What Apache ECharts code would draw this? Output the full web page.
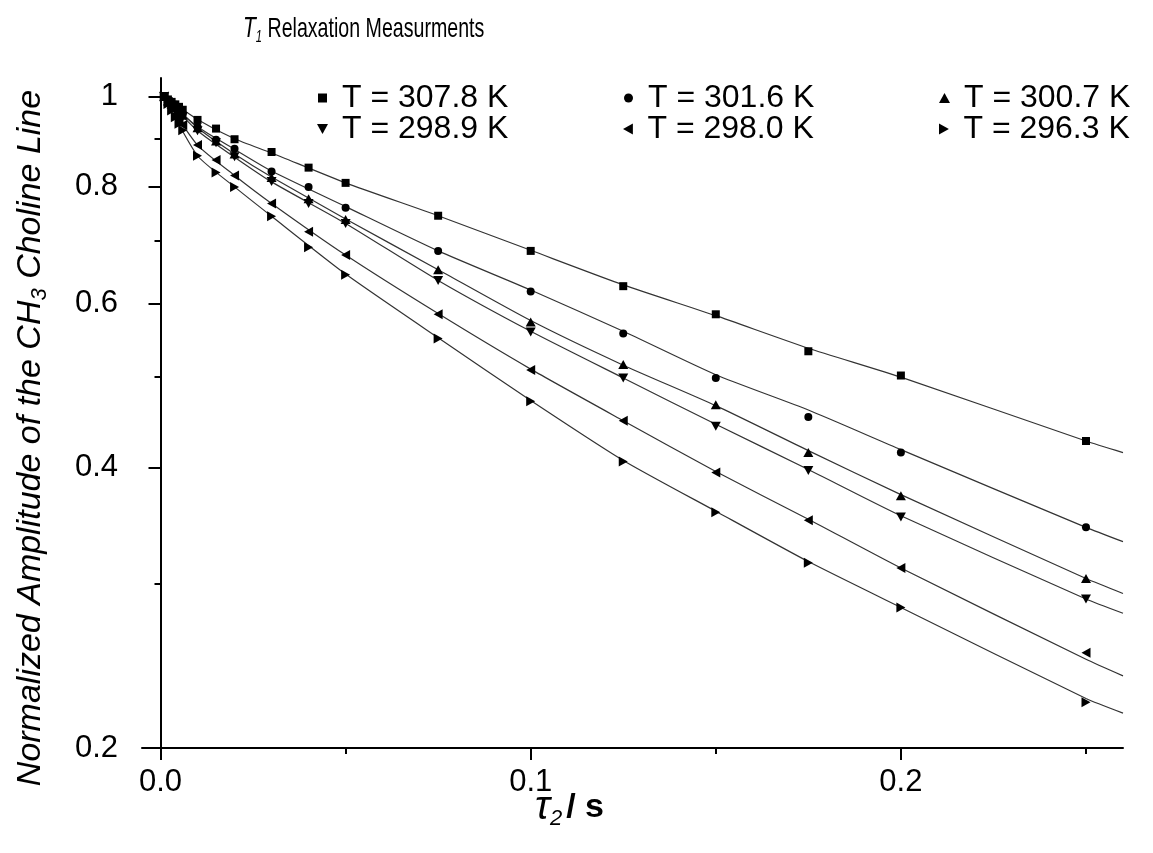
<!DOCTYPE html>
<html><head><meta charset="utf-8">
<script src="https://cdn.jsdelivr.net/npm/echarts@6/dist/echarts.min.js"></script>
<style>html,body{margin:0;padding:0;background:#fff}#c{width:1153px;height:853px}</style>
</head><body><div id="c"></div>
<script>
// ---- data ----
const tau = [0.001,0.002,0.003,0.004,0.005,0.006,0.01,0.015,0.02,0.03,0.04,0.05,0.075,0.1,0.125,0.15,0.175,0.2,0.25];
const seriesNames = ['T = 307.8 K','T = 301.6 K','T = 300.7 K','T = 298.9 K','T = 298.0 K','T = 296.3 K'];
const amp3078 = [1.0,0.993,0.987,0.981,0.975,0.968,0.944,0.924,0.900,0.872,0.839,0.808,0.745,0.683,0.626,0.584,0.533,0.502,0.427];
const amp3016 = [1.0,0.990,0.982,0.975,0.965,0.957,0.928,0.899,0.879,0.831,0.800,0.760,0.683,0.618,0.557,0.499,0.453,0.415,0.345];
const amp3007 = [1.0,0.989,0.981,0.973,0.963,0.955,0.926,0.896,0.868,0.819,0.777,0.738,0.652,0.573,0.516,0.467,0.415,0.373,0.304];
const amp2989 = [1.0,0.988,0.979,0.970,0.961,0.952,0.919,0.892,0.862,0.811,0.768,0.731,0.635,0.559,0.499,0.443,0.397,0.354,0.289];
const amp2980 = [1.0,0.985,0.972,0.958,0.945,0.932,0.887,0.855,0.823,0.768,0.716,0.676,0.584,0.509,0.449,0.395,0.351,0.312,0.253];
const amp2963 = [1.0,0.982,0.966,0.950,0.935,0.920,0.864,0.829,0.800,0.744,0.689,0.644,0.550,0.471,0.406,0.358,0.316,0.283,0.224];
// fitted curves
const tauFit = [0.001,0.01,0.02,0.03,0.05,0.075,0.1,0.125,0.15,0.175,0.2,0.25,0.26];
const fit3078 = [1.0,0.945,0.901,0.870,0.808,0.745,0.684,0.628,0.582,0.537,0.500,0.427,0.415];
const fit3016 = [1.0,0.928,0.878,0.832,0.762,0.683,0.620,0.560,0.503,0.461,0.418,0.345,0.333];
const fit3007 = [1.0,0.926,0.868,0.820,0.739,0.652,0.575,0.515,0.466,0.417,0.374,0.304,0.293];
const fit2989 = [1.0,0.919,0.861,0.810,0.731,0.635,0.560,0.499,0.445,0.398,0.355,0.289,0.279];
const fit2980 = [1.0,0.887,0.823,0.768,0.676,0.585,0.510,0.449,0.396,0.352,0.312,0.249,0.239];
const fit2963 = [1.0,0.864,0.800,0.744,0.645,0.551,0.472,0.407,0.359,0.317,0.283,0.226,0.218];
const yMajorTicks = [0.2,0.4,0.6,0.8,1];
const yMinorTicks = [0.3,0.5,0.7,0.9];
const xMajorTicks = [0,0.1,0.2];
const xMinorTicks = [0.05,0.15,0.25];

// ---- chart ----
const amps = [amp3078,amp3016,amp3007,amp2989,amp2980,amp2963];
const fits = [fit3078,fit3016,fit3007,fit2989,fit2980,fit2963];
const symbols = [
  {symbol:'rect', size:8, rot:0, icon:'rect', isz:9},
  {symbol:'circle', size:8, rot:0, icon:'circle', isz:9},
  {symbol:'triangle', size:[10,9], rot:0, icon:'path://M5,0L10,9L0,9Z', isz:11},
  {symbol:'triangle', size:[10,9], rot:180, icon:'path://M0,0L10,0L5,9Z', isz:11},
  {symbol:'triangle', size:[10,9], rot:90, icon:'path://M9,0L9,10L0,5Z', isz:11},
  {symbol:'triangle', size:[10,9], rot:-90, icon:'path://M0,0L0,10L9,5Z', isz:11}
];
const FONT = '"Liberation Sans", Arial, sans-serif';
const series = [];
seriesNames.forEach((n,i)=>{
  series.push({
    name: 'fit'+i, type:'line', smooth:0.2, showSymbol:false, silent:true,
    lineStyle:{color:'#333', width:1.2}, z:1,
    data: tauFit.map((x,j)=>[x,fits[i][j]])
  });
  series.push({
    name: n, type:'scatter', symbol: symbols[i].symbol, symbolSize: symbols[i].size,
    symbolRotate: symbols[i].rot, itemStyle:{color:'#000', opacity:1}, z:3,
    data: tau.map((x,j)=>[x,amps[i][j]])
  });
});
const legendPos = [[313,77],[619,77],[935,77],[313,108],[619,108],[935,108]];
const legends = seriesNames.map((n,i)=>({
  data:[{name:n, icon:symbols[i].icon}], left:legendPos[i][0] - (symbols[i].isz-9)/2, top:legendPos[i][1],
  itemWidth:symbols[i].isz, itemHeight:symbols[i].isz, itemGap:0,
  textStyle:{fontSize:32, color:'#000', fontFamily:FONT, padding:[0,0,0,10 - (symbols[i].isz-9)/2]}, selectedMode:false
}));
const chart = echarts.init(document.getElementById('c'));
chart.setOption({
  backgroundColor:'#fff',
  animation:false,
  grid:{left:142, right:30, top:78, bottom:105},
  legend: legends,
  xAxis:[{
    type:'value', min:-0.005, max:0.26,
    axisLine:{lineStyle:{color:'#000', width:2}},
    axisTick:{customValues:xMajorTicks, length:12, lineStyle:{color:'#000', width:2}},
    axisLabel:{customValues:xMajorTicks, formatter:v=>v.toFixed(1), fontSize:31, color:'#000', fontFamily:FONT, margin:19},
    splitLine:{show:false}
  },{
    type:'value', min:-0.005, max:0.26, position:'bottom',
    axisLine:{show:false},
    axisTick:{customValues:xMinorTicks, length:6, lineStyle:{color:'#000', width:2}},
    axisLabel:{show:false},
    splitLine:{show:false}
  }],
  yAxis:[{
    type:'log', min:0.2, max:1.047,
    axisLine:{show:true, lineStyle:{color:'#000', width:2}},
    axisTick:{customValues:yMajorTicks, length:12, lineStyle:{color:'#000', width:2}},
    axisLabel:{customValues:yMajorTicks, formatter:v=>String(+v.toFixed(1)), fontSize:31, color:'#000', fontFamily:FONT, margin:24},
    splitLine:{show:false}
  },{
    type:'log', min:0.2, max:1.047, position:'left',
    axisLine:{show:false},
    axisTick:{customValues:yMinorTicks, length:6, lineStyle:{color:'#000', width:2}},
    axisLabel:{show:false},
    splitLine:{show:false}
  }],
  graphic:[
    {type:'text', x:243, y:12, scaleX:0.7, style:{
      text:'{t|T}{s|1}{n| Relaxation Measurments}',
      rich:{
        t:{fontSize:30, fontStyle:'italic', fontFamily:FONT, lineHeight:34, verticalAlign:'middle', fill:'#000'},
        s:{fontSize:16, fontStyle:'italic', fontFamily:FONT, lineHeight:14, verticalAlign:'bottom', fill:'#000'},
        n:{fontSize:28, fontFamily:FONT, lineHeight:34, verticalAlign:'middle', fill:'#000'}
      }}},
    {type:'text', left:535, top:788, style:{
      text:'{t|τ}{s|2}{n|/ s}',
      rich:{
        t:{fontSize:40, fontStyle:'italic', fontFamily:FONT, lineHeight:44, verticalAlign:'middle', fill:'#000'},
        s:{fontSize:22, fontStyle:'italic', fontFamily:FONT, lineHeight:16, verticalAlign:'bottom', fill:'#000', padding:[0,4,0,0]},
        n:{fontSize:34, fontWeight:'bold', fontFamily:FONT, lineHeight:44, verticalAlign:'middle', fill:'#000'}
      }}},
    {type:'text', x:31, y:438, rotation:Math.PI/2, style:{
      text:'{n|Normalized Amplitude of the CH}{s|3}{n| Choline Line}',
      align:'center', verticalAlign:'middle',
      rich:{
        n:{fontSize:34, fontStyle:'italic', fontFamily:FONT, lineHeight:40, verticalAlign:'middle', fill:'#000'},
        s:{fontSize:22, fontStyle:'italic', fontFamily:FONT, lineHeight:20, verticalAlign:'bottom', fill:'#000'}
      }}}
  ],
  series: series.map(s=>Object.assign(s,{xAxisIndex:0,yAxisIndex:0}))
});
</script></body></html>
